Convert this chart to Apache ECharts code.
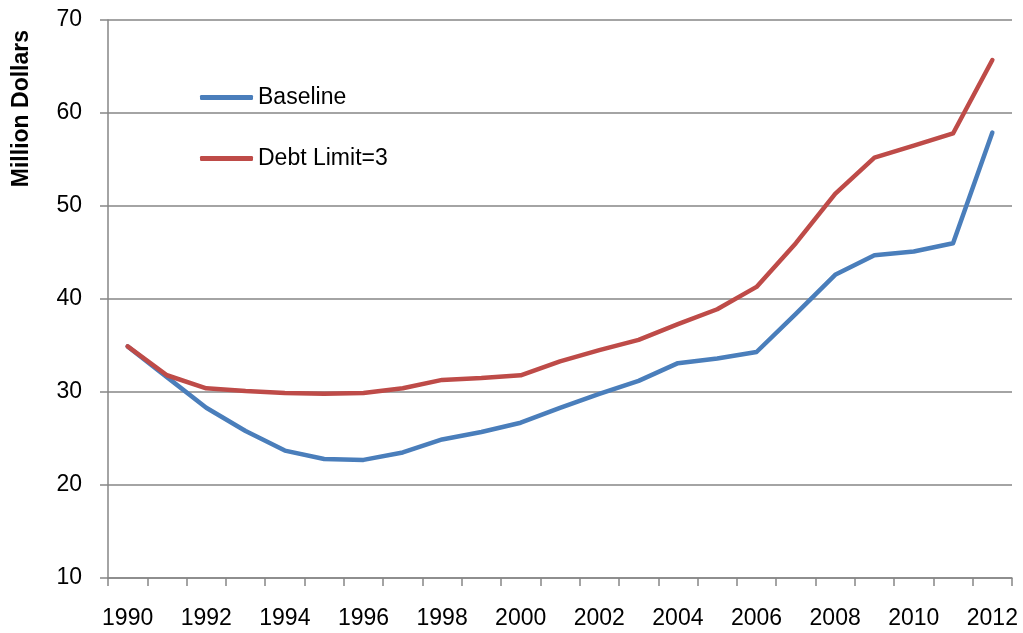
<!DOCTYPE html>
<html>
<head>
<meta charset="utf-8">
<script src="https://cdn.jsdelivr.net/npm/echarts@6/dist/echarts.min.js"></script>
<style>
  html, body { margin: 0; padding: 0; background: #fff; }
  #main { width: 1023px; height: 633px; }
</style>
</head>
<body>
<div id="main"></div>
<script>
var years = ['1990','1991','1992','1993','1994','1995','1996','1997','1998','1999','2000','2001',
  '2002','2003','2004','2005','2006','2007','2008','2009','2010','2011','2012'];
var baseline = [34.9, 31.6, 28.3, 25.8, 23.7, 22.8, 22.7, 23.5, 24.9, 25.7, 26.7, 28.3,
  29.8, 31.2, 33.1, 33.6, 34.3, 38.4, 42.6, 44.7, 45.1, 46.0, 57.9];
var debtLimit = [34.9, 31.8, 30.4, 30.1, 29.9, 29.8, 29.9, 30.4, 31.3, 31.5, 31.8, 33.3,
  34.5, 35.6, 37.3, 38.9, 41.3, 46.0, 51.3, 55.2, 56.5, 57.8, 65.7];
var seriesNames = ['Baseline', 'Debt Limit=3'];
var colors = ['#4a7ebb', '#be4b48'];

var font = 'Liberation Sans';
var chart = echarts.init(document.getElementById('main'));
chart.setOption({
  animation: false,
  color: colors,
  grid: { left: 108, right: 11, top: 20, bottom: 55, containLabel: false },
  legend: {
    orient: 'vertical',
    left: 195,
    top: 81,
    itemGap: 38,
    itemWidth: 53,
    itemHeight: 5,
    icon: 'roundRect',
    data: seriesNames,
    textStyle: { fontFamily: font, fontSize: 23, color: '#000' }
  },
  graphic: [{
    type: 'text',
    left: 10,
    top: 30,
    rotation: Math.PI / 2,
    style: {
      text: 'Million Dollars',
      font: 'bold 23px "Liberation Sans"',
      fill: '#000'
    }
  }],
  xAxis: {
    type: 'category',
    data: years,
    boundaryGap: true,
    axisLine: { lineStyle: { color: '#868686', width: 1.5 } },
    axisTick: { show: true, interval: 0, length: 8, lineStyle: { color: '#868686', width: 1.5 } },
    axisLabel: { interval: 1, margin: 29, fontFamily: font, fontSize: 23, color: '#000' },
    splitLine: { show: false }
  },
  yAxis: {
    type: 'value',
    min: 10,
    max: 70,
    interval: 10,
    axisLine: { show: true, lineStyle: { color: '#868686', width: 1.5 } },
    axisTick: { show: true, length: 8, lineStyle: { color: '#868686', width: 1.5 } },
    axisLabel: { margin: 26, fontFamily: font, fontSize: 23, color: '#000' },
    splitLine: { lineStyle: { color: '#868686', width: 1.5 } }
  },
  series: [
    {
      name: seriesNames[0],
      type: 'line',
      data: baseline,
      showSymbol: false,
      symbol: 'none',
      lineStyle: { width: 4.5, color: colors[0], cap: 'round', join: 'round' }
    },
    {
      name: seriesNames[1],
      type: 'line',
      data: debtLimit,
      showSymbol: false,
      symbol: 'none',
      lineStyle: { width: 4.5, color: colors[1], cap: 'round', join: 'round' }
    }
  ]
});
</script>
</body>
</html>
